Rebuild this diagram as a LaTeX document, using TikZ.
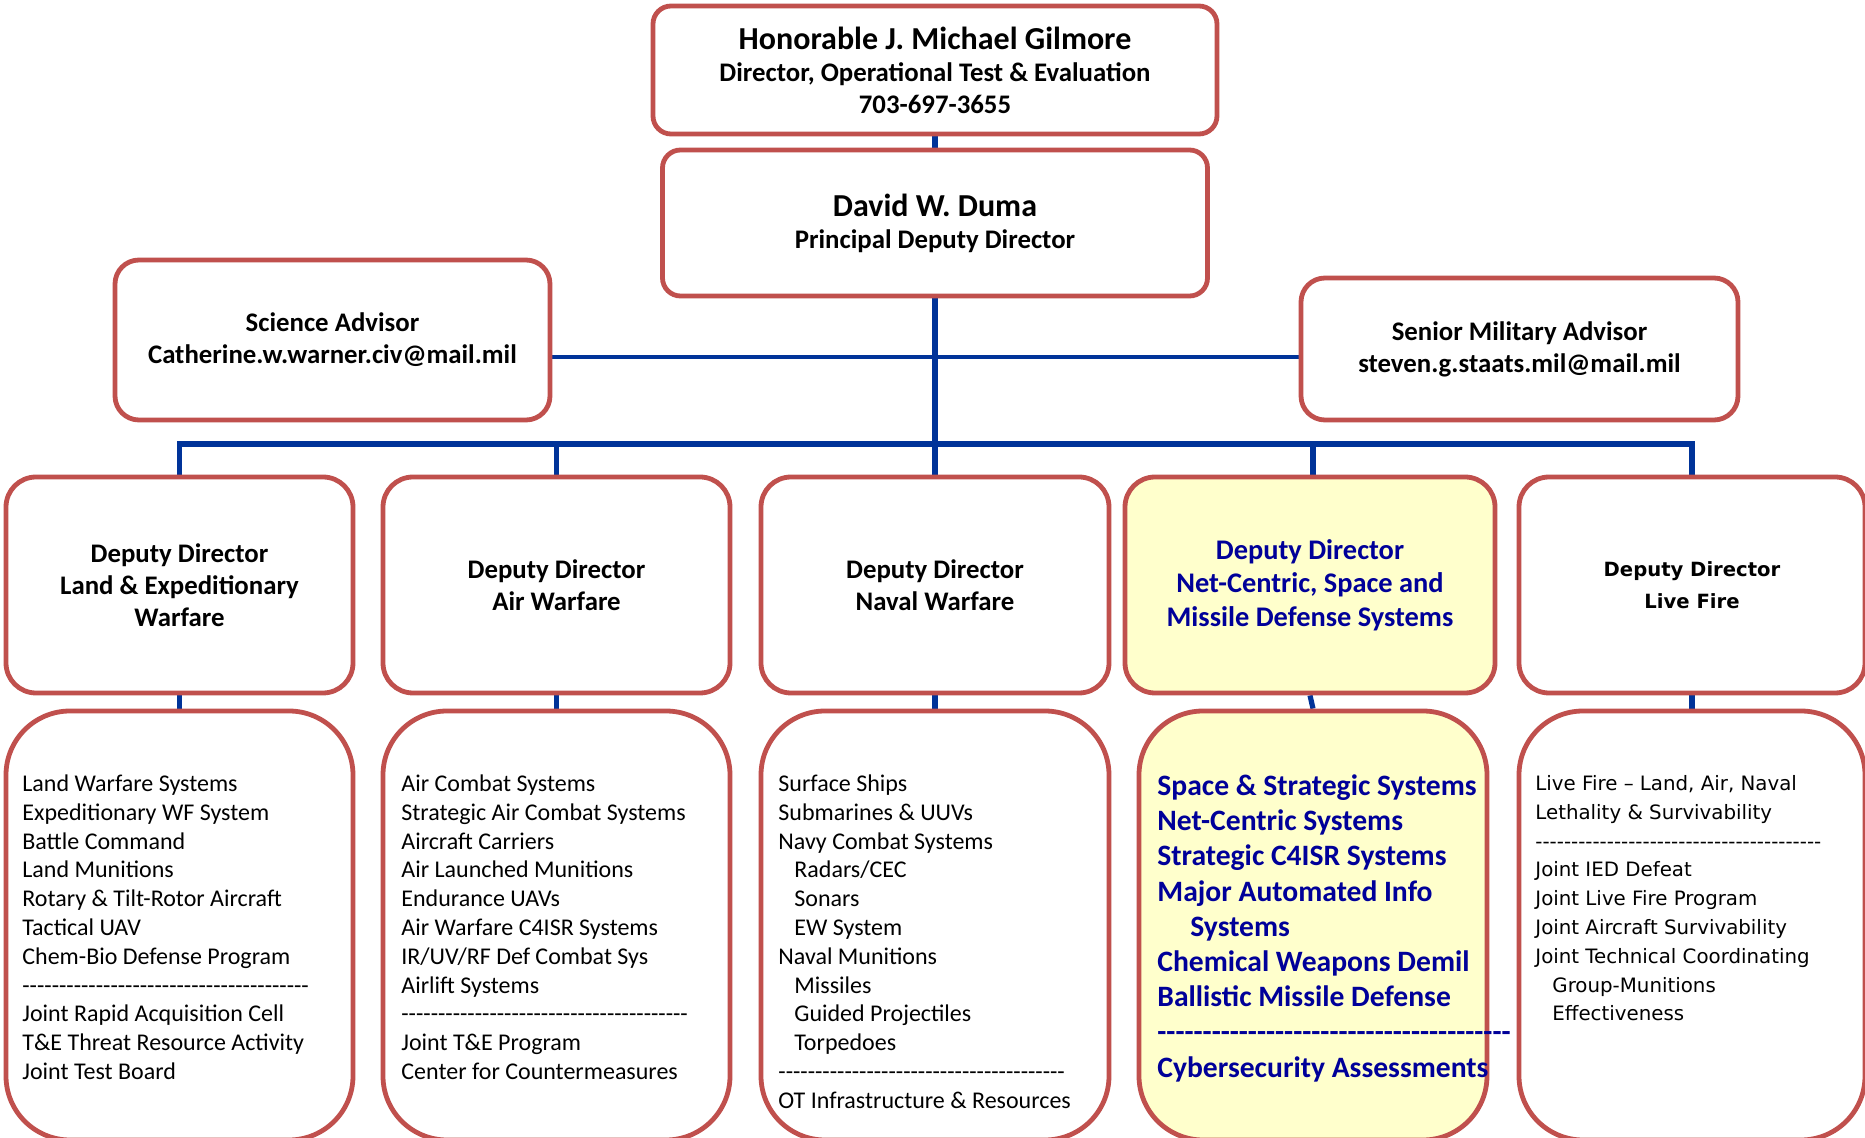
\documentclass[tikz,border=0pt]{standalone}
\usepackage{fontspec}
\setmainfont{Carlito}
\newfontfamily\lffont{DejaVu Sans}
\usetikzlibrary{backgrounds}
\definecolor{boxred}{HTML}{C0504D}
\definecolor{lineblue}{HTML}{003399}
\definecolor{boxyellow}{HTML}{FFFFCC}
\definecolor{textblue}{HTML}{000099}
\newcount\dashcnt
\newcommand\dashrow[1]{\dashcnt=0 \loop\ifnum\dashcnt<#1 -\kern0pt\advance\dashcnt by 1 \repeat}
\begin{document}
\begin{tikzpicture}[x=0.5pt,y=-0.5pt,
  ob/.style={draw=boxred, line width=2.4pt, fill=white, inner sep=0pt, align=center,
    font=\bfseries\fontsize{13.4}{16}\selectfont},
  topbox/.style={ob, rounded corners=9pt},
  advbox/.style={ob, rounded corners=12pt},
  depbox/.style={ob, rounded corners=15pt, minimum height=108pt},
  listbox/.style={ob, rounded corners=32pt, minimum height=214.5pt},
  trunk/.style={draw=lineblue, line width=3.4pt},
  advline/.style={draw=lineblue, line width=2.4pt},
  busline/.style={draw=lineblue, line width=3pt, line cap=rect},
  dropline/.style={draw=lineblue, line width=2.6pt},
  list/.style={inner sep=0pt, align=left, anchor=north west, font=\fontsize{12}{14.4}\selectfont}
]
\useasboundingbox (0,0) rectangle (1865,1138);
\clip (0,0) rectangle (1865,1138);

% top boxes
\node[topbox, minimum width=282pt, minimum height=64pt] (dir) at (935,70)
  {{\fontsize{16}{18}\selectfont Honorable J. Michael Gilmore}\\Director, Operational Test \& Evaluation\\703-697-3655};
\node[topbox, minimum width=272.5pt, minimum height=73pt] (pdd) at (935,223)
  {{\fontsize{16}{18}\selectfont David W. Duma}\\Principal Deputy Director};
\node[advbox, minimum width=217.5pt, minimum height=80pt] (sci) at (332.5,340)
  {Science Advisor\\Catherine.w.warner.civ@mail.mil};
\node[advbox, minimum width=218.5pt, minimum height=71pt] (sma) at (1519.5,349)
  {Senior Military Advisor\\steven.g.staats.mil@mail.mil};

% deputy directors
\node[depbox, minimum width=173.5pt] (d1) at (179.5,585) {Deputy Director\\Land \& Expeditionary\\Warfare};
\node[depbox, minimum width=173.5pt] (d2) at (556.5,585) {Deputy Director\\Air Warfare};
\node[depbox, minimum width=174pt] (d3) at (935,585) {Deputy Director\\Naval Warfare};
\node[depbox, minimum width=185pt, fill=boxyellow, text=textblue, font=\bfseries\fontsize{14.2}{16.7}\selectfont] (d4) at (1310,585)
  {Deputy Director\\Net-Centric, Space and\\Missile Defense Systems};
\node[depbox, minimum width=173pt, font=\lffont\bfseries\fontsize{9.8}{16}\selectfont] (d5) at (1692,585) {Deputy Director\\Live Fire};

% list boxes
\node[listbox, minimum width=173.5pt] (b1) at (179.5,925.5) {};
\node[listbox, minimum width=173.5pt] (b2) at (556.5,925.5) {};
\node[listbox, minimum width=174pt] (b3) at (935,925.5) {};
\node[listbox, minimum width=174pt, fill=boxyellow] (b4) at (1313,925.5) {};
\node[listbox, minimum width=173pt] (b5) at (1692,925.5) {};

% list texts
\node[list] (t1) at (22,771) {\rule{0pt}{10pt}Land Warfare Systems\\Expeditionary WF System\\Battle Command\\Land Munitions\\Rotary \& Tilt-Rotor Aircraft\\Tactical UAV\\Chem-Bio Defense Program\\\dashrow{39}\\Joint Rapid Acquisition Cell\\T\&E Threat Resource Activity\\Joint Test Board};
\node[list] (t2) at (401,771) {\rule{0pt}{10pt}Air Combat Systems\\Strategic Air Combat Systems\\Aircraft Carriers\\Air Launched Munitions\\Endurance UAVs\\Air Warfare C4ISR Systems\\IR/UV/RF Def Combat Sys\\Airlift Systems\\\dashrow{39}\\Joint T\&E Program\\Center for Countermeasures};
\node[list] (t3) at (778,771) {\rule{0pt}{10pt}Surface Ships\\Submarines \& UUVs\\Navy Combat Systems\\\hspace*{8pt}Radars/CEC\\\hspace*{8pt}Sonars\\\hspace*{8pt}EW System\\Naval Munitions\\\hspace*{8pt}Missiles\\\hspace*{8pt}Guided Projectiles\\\hspace*{8pt}Torpedoes\\\dashrow{39}\\OT Infrastructure \& Resources};
\node[list, text=textblue, font=\bfseries\fontsize{14.8}{17.6}\selectfont] (t4) at (1157,771) {\rule{0pt}{12pt}Space \& Strategic Systems\\Net-Centric Systems\\Strategic C4ISR Systems\\Major Automated Info\\\hspace*{16.5pt}Systems\\Chemical Weapons Demil\\Ballistic Missile Defense\\\dashrow{39}\\Cybersecurity Assessments};
\node[list, font=\lffont\fontsize{9.9}{14.4}\selectfont] (t5) at (1535,770) {\rule{0pt}{10pt}Live Fire – Land, Air, Naval\\Lethality \& Survivability\\\dashrow{40}\\Joint IED Defeat\\Joint Live Fire Program\\Joint Aircraft Survivability\\Joint Technical Coordinating\\\hspace*{8.5pt}Group-Munitions\\\hspace*{8.5pt}Effectiveness};

% connectors
\coordinate (bus) at (935,444);
\coordinate (adv) at (935,357);
\begin{scope}[on background layer]
  \fill[white] (0,0) rectangle (1865,1138);
  \draw[trunk] (dir.south) -- (dir.south |- pdd.north);
  \draw[trunk] (pdd.south) -- (bus);
  \draw[advline] (sci.east |- adv) -- (sma.west |- adv);
  \draw[busline] (d1.north |- bus) -- (d5.north |- bus);
  \draw[dropline] (d1.north |- bus) -- (d1.north);
  \draw[dropline] (d2.north |- bus) -- (d2.north);
  \draw[dropline] (d3.north |- bus) -- (d3.north);
  \draw[dropline] (b4.north |- bus) -- (b4.north |- d4.north);
  \draw[dropline] (d5.north |- bus) -- (d5.north);
  \draw[dropline] (d1.south) -- (b1.north);
  \draw[dropline] (d2.south) -- (b2.north);
  \draw[dropline] (d3.south) -- (b3.north);
  \draw[dropline] (d4.south) -- (b4.north);
  \draw[dropline] (d5.south) -- (b5.north);
\end{scope}
\end{tikzpicture}
\end{document}
